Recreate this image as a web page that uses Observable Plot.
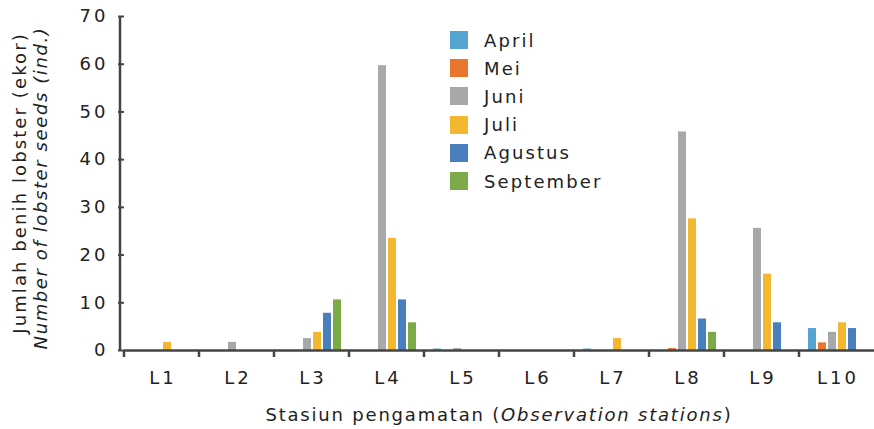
<!DOCTYPE html>
<html><head><meta charset="utf-8">
<script src="https://cdn.jsdelivr.net/npm/d3@7"></script>
<script src="https://cdn.jsdelivr.net/npm/@observablehq/plot@0.6"></script>
<style>
body{margin:0;background:#fff}
#wrap{position:relative;width:874px;height:429px;font-family:"DejaVu Sans",sans-serif;color:#222}
#legend{position:absolute;left:450px;top:26px}
.li{display:flex;align-items:center;height:28.2px;font-size:18px;letter-spacing:2.1px}
.sw{width:18px;height:18px;margin-right:16px}
g[aria-label="y-axis tick label"] text{letter-spacing:3px}
g[aria-label="fx-axis tick label"] text{letter-spacing:3px}
</style>
</head><body><div id="wrap"></div>
<script>
const stations = ["L1","L2","L3","L4","L5","L6","L7","L8","L9","L10"];
const months = ["April","Mei","Juni","Juli","Agustus","September"];
const colors = ["#55A4D2","#E8762F","#A6A8AA","#F3B731","#4A7EBD","#7DAA48"];
const april     = [0,   0,   0,    0,    0.3, 0, 0.3, 0,    0,    4.6];
const mei       = [0,   0,   0,    0,    0,   0, 0,   0.4,  0,    1.6];
const juni      = [0,   1.7, 2.5,  59.7, 0.4, 0, 0,   45.8, 25.6, 3.8];
const juli      = [1.7, 0,   3.8,  23.5, 0,   0, 2.5, 27.6, 16.0, 5.8];
const agustus   = [0,   0,   7.8,  10.6, 0,   0, 0,   6.6,  5.8,  4.6];
const september = [0,   0,   10.6, 5.8,  0,   0, 0,   3.8,  0,    0];
const yTicks = [0,10,20,30,40,50,60,70];

const series = [april, mei, juni, juli, agustus, september];
const data = [];
stations.forEach((s,i) => months.forEach((m,j) => {
  data.push({station: s, month: m, value: series[j][i]});
}));

const plot = Plot.plot({
  width: 874, height: 429,
  marginLeft: 120, marginRight: -3, marginTop: 16, marginBottom: 79,
  style: {fontFamily: "DejaVu Sans", fontSize: "18px", color: "#222", background: "white"},
  fx: {domain: stations, padding: 0, label: null, axis: null},
  x: {domain: months, paddingInner: 0.24, paddingOuter: 0.72, axis: null},
  y: {domain: [0, 70], label: null, axis: null},
  color: {domain: months, range: colors},
  marks: [
    Plot.barY(data, {fx: "station", x: "month", y: "value", fill: "month"}),
    Plot.ruleY([0], {stroke: "#444", strokeWidth: 2.5}),
    Plot.axisY({ticks: yTicks, tickSize: 6, tickPadding: 10, label: null, stroke: "#444", strokeWidth: 2, fontSize: 18, facetAnchor: "left"}),
    Plot.axisFx({anchor: "bottom", tickSize: 0, tickPadding: 21, label: null, fontSize: 18, dx: 1})
  ]
});

const svg = d3.select(plot);
const fx = plot.scale("fx");
const y = plot.scale("y");
// y axis domain line
svg.append("line").attr("x1", 120).attr("x2", 120).attr("y1", y.apply(70)).attr("y2", y.apply(0) + 1)
  .attr("stroke", "#444").attr("stroke-width", 2.5);
// boundary ticks
stations.forEach(s => {
  const b = fx.apply(s);
  svg.append("line").attr("x1", b).attr("x2", b).attr("y1", y.apply(0)).attr("y2", y.apply(0) + 7)
    .attr("stroke", "#444").attr("stroke-width", 2.5);
});
// x title
const xt = svg.append("text").attr("x", 499).attr("y", 421).attr("text-anchor", "middle")
  .attr("font-size", 18).attr("fill", "#222").style("letter-spacing", "1.8px");
xt.append("tspan").text("Stasiun pengamatan (");
xt.append("tspan").attr("font-style", "italic").text("Observation stations");
xt.append("tspan").text(")");
// y title
const cy = (y.apply(0) + y.apply(70)) / 2;
svg.append("text").attr("transform", `translate(26,${cy}) rotate(-90)`).attr("text-anchor", "middle")
  .attr("font-size", 18).attr("fill", "#222").style("letter-spacing", "2.1px").text("Jumlah benih lobster (ekor)");
svg.append("text").attr("transform", `translate(47,${cy + 5}) rotate(-90)`).attr("text-anchor", "middle")
  .attr("font-size", 18).attr("font-style", "italic").attr("fill", "#222").style("letter-spacing", "1.6px").text("Number of lobster seeds (ind.)");

const wrap = document.getElementById("wrap");
wrap.appendChild(plot);
const lg = document.createElement("div");
lg.id = "legend";
months.forEach((m, j) => {
  const r = document.createElement("div"); r.className = "li";
  const sw = document.createElement("span"); sw.className = "sw"; sw.style.background = colors[j];
  const t = document.createElement("span"); t.textContent = m;
  r.appendChild(sw); r.appendChild(t); lg.appendChild(r);
});
wrap.appendChild(lg);
</script>
</body></html>
